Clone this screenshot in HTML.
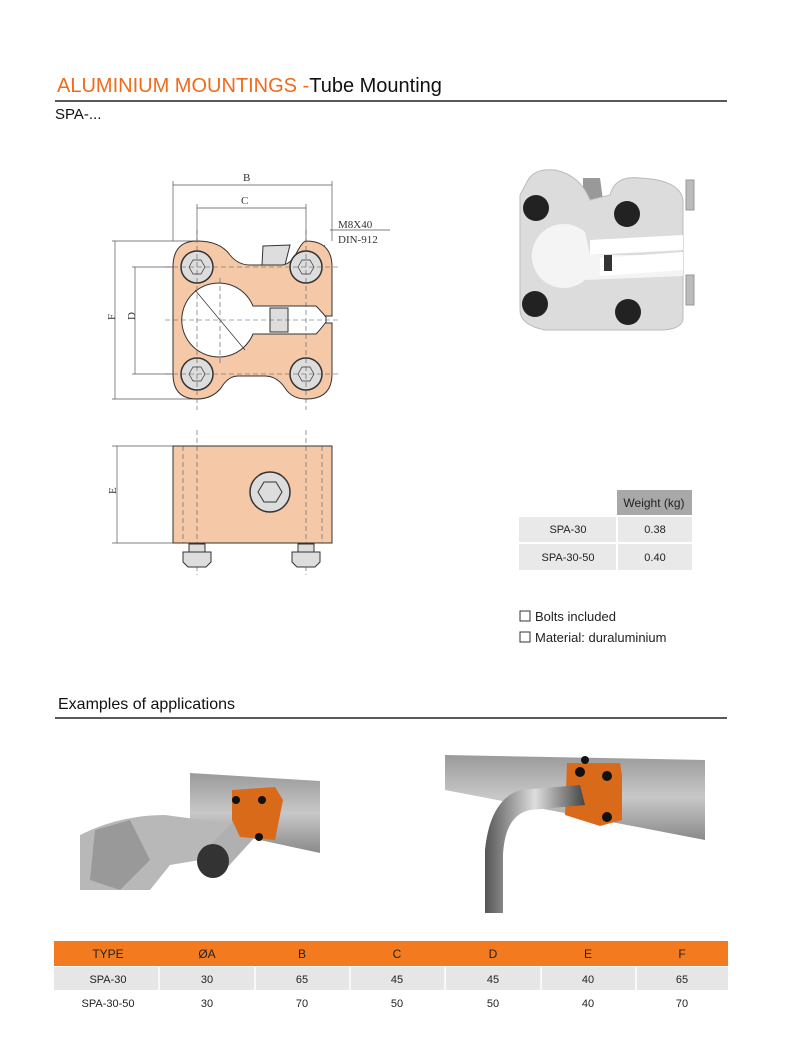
<!DOCTYPE html>
<html><head><meta charset="utf-8"><style>
html,body{margin:0;padding:0;background:#fff;}
body{width:800px;height:1061px;position:relative;overflow:hidden;font-family:"Liberation Sans",Arial,sans-serif;}
svg{position:absolute;left:0;top:0;}
</style></head><body>
<svg width="800" height="1061" viewBox="0 0 800 1061" xmlns="http://www.w3.org/2000/svg" font-family="Liberation Sans, Arial, sans-serif">
<defs>
<linearGradient id="rail" x1="0" y1="0" x2="0" y2="1"><stop offset="0" stop-color="#9a9a9a"/><stop offset="0.5" stop-color="#c8c8c8"/><stop offset="1" stop-color="#8a8a8a"/></linearGradient>
<linearGradient id="tube" x1="0" y1="0" x2="1" y2="0"><stop offset="0" stop-color="#555"/><stop offset="0.5" stop-color="#ddd"/><stop offset="1" stop-color="#444"/></linearGradient>
</defs>
<text x="57" y="92" font-size="20" fill="#f26a1b">ALUMINIUM MOUNTINGS -<tspan fill="#111">Tube Mounting</tspan></text>
<line x1="55" y1="101" x2="727" y2="101" stroke="#222" stroke-width="1.5"/>
<text x="55" y="119" font-size="15" fill="#111">SPA-...</text>

<g stroke="#555" stroke-width="0.7" fill="none">
<line x1="173" y1="181" x2="173" y2="241"/><line x1="332" y1="181" x2="332" y2="241"/>
<line x1="173" y1="185" x2="332" y2="185"/>
<line x1="197" y1="204" x2="197" y2="240"/><line x1="306" y1="204" x2="306" y2="240"/>
<line x1="197" y1="208" x2="306" y2="208"/>
<line x1="112" y1="241" x2="200" y2="241"/><line x1="112" y1="399" x2="200" y2="399"/>
<line x1="115" y1="241" x2="115" y2="399"/>
<line x1="132" y1="267" x2="180" y2="267"/><line x1="132" y1="374" x2="180" y2="374"/>
<line x1="135" y1="267" x2="135" y2="374"/>
<line x1="112" y1="446" x2="173" y2="446"/><line x1="112" y1="543" x2="173" y2="543"/>
<line x1="117" y1="446" x2="117" y2="543"/>
<line x1="330" y1="230" x2="390" y2="230"/>
<line x1="325" y1="245" x2="300" y2="280"/>
</g>
<g font-family="Liberation Serif, serif" font-size="11" fill="#333">
<text x="243" y="181">B</text><text x="241" y="204">C</text>
<text x="338" y="228">M8X40</text><text x="338" y="243">DIN-912</text>
<text x="110" y="325" transform="rotate(-90 110 320)">F</text>
<text x="130" y="325" transform="rotate(-90 130 320)">D</text>
<text x="112" y="498" transform="rotate(-90 112 494)">E</text>
</g>
<path d="M263 246 L290 245 L285 265 L262 265 Z" fill="#ddd" stroke="#333"/>
<path d="M197 241 Q220 241 230 255 Q238 265 250 265 L283 265 Q292 263 297 252 Q303 241 306 241 Q332 241 332 267 L332 316 L326 316 Q324 320 326 323 L332 323 L332 374 Q332 399 306 399 Q292 399 285 388 Q277 376 265 376 L238 376 Q228 376 221 388 Q212 399 197 399 Q173 399 173 374 L173 267 Q173 241 197 241 Z" fill="#f5c8a8" stroke="#333" stroke-width="1"/>
<path d="M253 306 A37 37 0 1 0 253 334 L316 334 Q320 330 326 322 L326 317 Q320 310 316 306 Z" fill="#fff" stroke="#333" stroke-width="1"/>
<rect x="270" y="308" width="18" height="24" fill="#ddd" stroke="#333"/>
<g stroke="#333" fill="#ddd">
<circle cx="197" cy="267" r="16" stroke-width="1.5"/><circle cx="306" cy="267" r="16" stroke-width="1.5"/>
<circle cx="197" cy="374" r="16" stroke-width="1.5"/><circle cx="306" cy="374" r="16" stroke-width="1.5"/>
</g>
<g stroke="#333" fill="none" stroke-width="0.7">
<polygon points="189,267 193,260 201,260 205,267 201,274 193,274"/>
<polygon points="298,267 302,260 310,260 314,267 310,274 302,274"/>
<polygon points="189,374 193,367 201,367 205,374 201,381 193,381"/>
<polygon points="298,374 302,367 310,367 314,374 310,381 302,381"/>
<line x1="195" y1="290" x2="245" y2="350"/>
</g>
<g stroke="#555" stroke-width="0.6" stroke-dasharray="5,3" fill="none">
<line x1="197" y1="230" x2="197" y2="410"/><line x1="306" y1="230" x2="306" y2="410"/>
<line x1="165" y1="267" x2="340" y2="267"/><line x1="165" y1="374" x2="340" y2="374"/>
<line x1="165" y1="320" x2="340" y2="320"/><line x1="220" y1="278" x2="220" y2="365"/>
<line x1="197" y1="430" x2="197" y2="575"/><line x1="306" y1="430" x2="306" y2="575"/>
<line x1="183" y1="446" x2="183" y2="543"/><line x1="322" y1="446" x2="322" y2="543"/>
</g>
<rect x="173" y="446" width="159" height="97" fill="#f5c8a8" stroke="#333"/>
<g stroke="#555" stroke-width="0.6" stroke-dasharray="5,3"><line x1="183" y1="446" x2="183" y2="543"/><line x1="322" y1="446" x2="322" y2="543"/><line x1="197" y1="446" x2="197" y2="543"/><line x1="306" y1="446" x2="306" y2="543"/></g>
<circle cx="270" cy="492" r="20" fill="#ddd" stroke="#333" stroke-width="1.5"/>
<polygon points="258,492 264,482 276,482 282,492 276,502 264,502" fill="none" stroke="#333"/>
<g fill="#ddd" stroke="#333">
<rect x="189" y="544" width="16" height="8"/><path d="M183 552 L211 552 L211 562 L206 567 L188 567 L183 562 Z"/>
<rect x="298" y="544" width="16" height="8"/><path d="M292 552 L320 552 L320 562 L315 567 L297 567 L292 562 Z"/>
</g>

<g>
<path d="M583 178 L600 178 L603 200 L583 200 Z" fill="#999"/>
<rect x="686" y="180" width="8" height="30" fill="#bbb" stroke="#999"/>
<rect x="686" y="275" width="8" height="30" fill="#bbb" stroke="#999"/>
<path d="M528 180 Q535 168 555 170 Q580 175 590 200 L610 195 Q615 175 640 178 Q680 180 683 200 L683 320 Q680 330 660 330 L545 330 Q520 325 520 310 L520 195 Z" fill="#dcdcdc" stroke="#bbb"/>
<path d="M590 240 L683 235 L683 250 L590 255 Z" fill="#fff"/>
<path d="M585 232 A32 32 0 1 0 585 280 L683 276 L683 255 L590 255 Z" fill="#f4f4f4"/>
<path d="M600 258 L683 252 L683 270 L600 276 Z" fill="#fff"/>
<rect x="604" y="255" width="8" height="16" fill="#333"/>
<g fill="#222"><circle cx="536" cy="208" r="13"/><circle cx="627" cy="214" r="13"/><circle cx="535" cy="304" r="13"/><circle cx="628" cy="312" r="13"/></g>
</g>

<rect x="617" y="490" width="75" height="25" fill="#a8a8a8"/>
<text x="654" y="507" font-size="12" text-anchor="middle" fill="#222">Weight (kg)</text>
<rect x="519" y="517" width="97" height="25" fill="#e9e9e9"/><rect x="618" y="517" width="74" height="25" fill="#e9e9e9"/>
<rect x="519" y="544" width="97" height="26" fill="#e9e9e9"/><rect x="618" y="544" width="74" height="26" fill="#e9e9e9"/>
<g font-size="11" fill="#222" text-anchor="middle">
<text x="568" y="533">SPA-30</text><text x="655" y="533">0.38</text>
<text x="568" y="561">SPA-30-50</text><text x="655" y="561">0.40</text>
</g>
<g font-size="13" fill="#222">
<rect x="520" y="611" width="10" height="10" fill="none" stroke="#333"/><text x="535" y="621">Bolts included</text>
<rect x="520" y="632" width="10" height="10" fill="none" stroke="#333"/><text x="535" y="642">Material: duraluminium</text>
</g>

<text x="58" y="709" font-size="16" fill="#111">Examples of applications</text>
<line x1="55" y1="718" x2="727" y2="718" stroke="#222" stroke-width="1.5"/>

<path d="M190 773 L320 781 L320 853 L190 825 Z" fill="url(#rail)"/>
<path d="M80 835 Q120 815 165 815 L240 825 L230 855 L170 865 L150 890 L80 890 Z" fill="#b8b8b8"/>
<path d="M95 830 L130 820 L150 860 L120 890 L90 880 Z" fill="#999"/>
<path d="M200 855 L255 800 L275 815 L225 870 Z" fill="#b0b0b0"/>
<ellipse cx="213" cy="861" rx="16" ry="17" fill="#333"/>
<path d="M232 790 L275 787 L283 800 L275 840 L240 837 L232 820 Z" fill="#d86a1a"/>
<g fill="#111"><circle cx="236" cy="800" r="4"/><circle cx="262" cy="800" r="4"/><circle cx="259" cy="837" r="4"/></g>

<path d="M445 755 L705 760 L705 840 L445 790 Z" fill="url(#rail)"/>
<path d="M567 763 L620 763 L622 775 L622 820 L600 826 L565 815 Z" fill="#d86a1a"/>
<g fill="#111"><circle cx="580" cy="772" r="5"/><circle cx="607" cy="776" r="5"/><circle cx="607" cy="817" r="5"/><circle cx="585" cy="760" r="4"/></g>
<path d="M580 785 L520 790 Q490 800 485 850 L485 913 L503 913 L503 855 Q505 815 530 810 L585 805 Z" fill="url(#tube)"/>

<rect x="54" y="941" width="674" height="25" fill="#f47a20"/>
<rect x="54" y="967" width="674" height="23" fill="#e6e6e6"/>
<g stroke="#fff" stroke-width="1.5"><line x1="159" y1="967" x2="159" y2="990"/><line x1="255" y1="967" x2="255" y2="990"/><line x1="350" y1="967" x2="350" y2="990"/><line x1="445" y1="967" x2="445" y2="990"/><line x1="541" y1="967" x2="541" y2="990"/><line x1="636" y1="967" x2="636" y2="990"/></g>
<g font-size="12" fill="#222" text-anchor="middle">
<text x="108" y="958">TYPE</text><text x="207" y="958">ØA</text><text x="302" y="958">B</text><text x="397" y="958">C</text><text x="493" y="958">D</text><text x="588" y="958">E</text><text x="682" y="958">F</text>
</g>
<g font-size="11" fill="#222" text-anchor="middle">
<text x="108" y="983">SPA-30</text><text x="207" y="983">30</text><text x="302" y="983">65</text><text x="397" y="983">45</text><text x="493" y="983">45</text><text x="588" y="983">40</text><text x="682" y="983">65</text>
<text x="108" y="1007">SPA-30-50</text><text x="207" y="1007">30</text><text x="302" y="1007">70</text><text x="397" y="1007">50</text><text x="493" y="1007">50</text><text x="588" y="1007">40</text><text x="682" y="1007">70</text>
</g>
</svg>
</body></html>
